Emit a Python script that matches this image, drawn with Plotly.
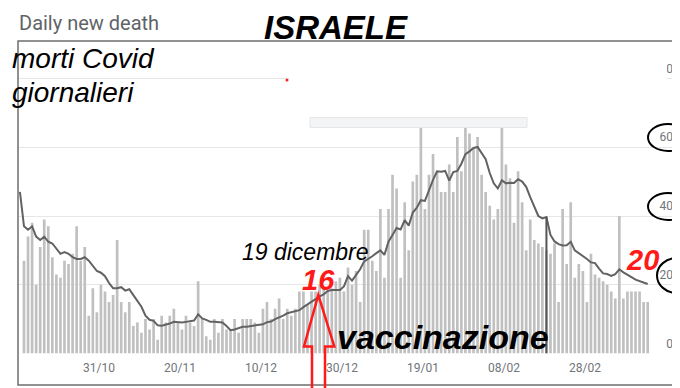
import pandas as pd
import plotly.graph_objects as go

# ---------------- data ----------------
start_date = "2020-10-11"
daily_deaths = [None,
    27, 34, 38, 20, 31, 39, 37, 28, 23, 22, 27, 26, 29, 37, 27, 31, 11, 19, 12, 20,
    18, 15, 17, 33, 15, 12, 15, 8, 9, 6, 10, 7, 10, 4, 11, 9, 11, 13,
    9, 7, 11, 9, 8, 21, 10, 5, 4, 10, 6, 10, 7, 7, 10, 6, 10, 10, 10, 9, 6, 13,
    15, 10, 13, 16, 10, 13, 11, 13, 18, 18, 14, 18, 18, 20, 19, 18, 19,
    21, 22, 18, 25, 20, 24, 15, 36, 36, 27, 24, 42, 22, 42, 52, 48, 22, 44, 30, 50, 52, 66,
    42, 52, 58, 53, 47, 47, 55, 47, 63, 53, 66, 64, 60, 63, 52, 47, 43, 39, 42,
    66, 55, 51, 38, 53, 44, 30, 39, 33, 32, 31, 30, 29, 32, 15, 42, 26, 44, 22, 26,
    24, 15, 29, 23, 22, 21, 20, 18, 16, 40, 16, 18, 18, 18, 18, 15, 15]

avg_7day = [47,
    37, 36, 37, 34, 33, 34, 32.5, 32, 30.5, 29, 29.5, 29, 28, 27.5, 27.5, 28, 27, 25.5, 24, 23.5,
    22.5, 20.5, 19, 19, 19.3, 18.3, 18.7, 17, 15.4, 13.6, 11, 9.8, 9.5, 8.2, 8.1, 8.3, 8.7, 9.2, 9.0,
    9.0, 9.2, 9.4, 9.6, 11.4, 10.2, 9.8, 9.2, 9.2, 9.0, 9.0, 8.0, 6.8, 7.0, 7.5, 7.8, 7.8, 8.0, 8.1, 8.2,
    8.5, 9.1, 9.3, 10.0, 10.4, 11.0, 11.7, 12.0, 12.3, 12.6, 13.5, 14.3, 15.0, 15.8, 16.6, 17.2, 18.2, 18.5,
    18.5, 18.5, 19.5, 22.5, 21.2, 23, 24.5, 26.8, 27.5, 28.3, 29.2, 30, 28.7, 32.5, 34.5, 36.5, 36.1,
    38.8, 37.2, 41, 42.4, 44.6,
    44.4, 47.5, 50.5, 53, 52.9, 53.1, 50.3, 52.8, 53.1, 55.2, 58, 58.8, 59.8, 60.1, 58.3, 56.5, 52.5, 49.5, 48,
    50.4, 49.5, 49.7, 49.6, 50.7, 50, 48.5, 45.5, 42.5, 40, 39.3, 39.7, 34.5, 32.6, 31.8, 31.4, 31.5, 32.5,
    30, 29.2, 28.5, 27.5, 26.5, 26.3, 24.7, 23.3, 23.1, 22.6, 23.1, 24.5, 23.6, 22.8, 22.2, 21.5, 21, 20.5, 20.2]

tick_dates = ["2020-10-31", "2020-11-20", "2020-12-10", "2020-12-30",
              "2021-01-19", "2021-02-08", "2021-02-28"]
tick_labels = ["31/10", "20/11", "10/12", "30/12", "19/01", "08/02", "28/02"]
y_ticks = [0, 20, 40, 60, 80]
hover_date = "2021-02-18"

dates = pd.date_range(start_date, periods=len(daily_deaths), freq="D")
assert len(daily_deaths) == len(avg_7day)

# ---------------- helpers (page pixel -> paper; page has an 8px body margin) ----------------
W, H = 680, 388
OFF = 8
def PX(x): return (x - OFF) / W
def PY(y): return 1 - (y - OFF) / H

fig = go.Figure()
fig.add_trace(go.Bar(x=dates, y=daily_deaths, marker_color="#c0c0c0",
                     marker_line_width=0, width=0.66 * 86400000))
fig.add_trace(go.Scatter(x=dates, y=avg_7day, mode="lines",
                         line=dict(color="#626262", width=2)))
hi = list(dates).index(pd.Timestamp(hover_date))
fig.add_trace(go.Scatter(x=[dates[hi], dates[hi]], y=[0, avg_7day[hi]], mode="lines",
                         line=dict(color="#555555", width=2)))

d0 = pd.Timestamp("2020-10-12")
xr = [d0 + pd.Timedelta(days=-1.48), d0 + pd.Timedelta(days=160.5)]

fig.update_layout(
    width=W, height=H, margin=dict(l=0, r=0, t=0, b=0),
    paper_bgcolor="white", plot_bgcolor="white", showlegend=False,
    bargap=0.3,
    xaxis=dict(domain=[PX(18), PX(674)], range=xr, type="date",
               tickvals=tick_dates, ticktext=tick_labels, showgrid=False,
               zeroline=False, showline=False, ticks="",
               tickfont=dict(family="Roboto", size=12, color="#70757a"),
               ticklabelshift=-2, ticklabelstandoff=5),
    yaxis=dict(domain=[PY(353.5), PY(41)], range=[0, (353.5 - 41) / 3.4375],
               side="right", anchor="free", position=PX(676),
               tickvals=y_ticks, ticklabelposition="inside",
               showgrid=True, gridcolor="#e6e6e6", gridwidth=1,
               zeroline=False, showline=False, ticks="",
               tickfont=dict(family="Roboto", size=12, color="#70757a"),
               ticklabelshift=-10),
)

shapes = []
# white patch hiding part of the top gridline / label
shapes.append(dict(type="rect", xref="paper", yref="paper", x0=PX(289), x1=PX(667),
                   y0=PY(86), y1=PY(56), fillcolor="white", line_width=0, layer="above"))
# grey box at top of chart
shapes.append(dict(type="rect", xref="paper", yref="paper", x0=PX(310), x1=PX(527),
                   y0=PY(127.5), y1=PY(117.5), fillcolor="#f3f4f5",
                   line=dict(color="#e6e6e6", width=1), layer="above"))
# frame
shapes.append(dict(type="rect", xref="paper", yref="paper", x0=PX(18), x1=PX(674),
                   y0=PY(385), y1=PY(41), line=dict(color="#6e6e6e", width=1.5),
                   fillcolor="rgba(0,0,0,0)", layer="above"))
# red dot
shapes.append(dict(type="circle", xref="paper", yref="paper", x0=PX(285.5), x1=PX(288.5),
                   y0=PY(81.5), y1=PY(78.5), fillcolor="#ff2020", line_width=0, layer="above"))
# black ellipses around axis labels
for (x0, y0, x1, y1) in [(648, 124, 688, 151), (648, 193, 688, 220), (657, 258, 697, 293)]:
    shapes.append(dict(type="circle", xref="paper", yref="paper", x0=PX(x0), x1=PX(x1),
                       y0=PY(y1), y1=PY(y0), line=dict(color="black", width=2),
                       fillcolor="rgba(0,0,0,0)", layer="above"))
# red hollow arrow
pts = [(312, 396), (312, 346.5), (304, 346.5), (318.3, 295), (334.3, 346.5), (325, 346.5), (325, 396)]
path = "M " + " L ".join(f"{PX(x):.5f},{PY(y):.5f}" for x, y in pts)
shapes.append(dict(type="path", xref="paper", yref="paper", path=path,
                   line=dict(color="#ff1a1a", width=2.5), layer="above"))
fig.update_layout(shapes=shapes)

def ann(text, x, y, size, color="black", xanchor="left", weight="normal", style="normal", family="Liberation Sans"):
    fig.add_annotation(text=text, xref="paper", yref="paper", x=PX(x), y=PY(y),
                       xanchor=xanchor, yanchor="middle", showarrow=False,
                       font=dict(family=family, size=size, color=color, weight=weight, style=style))

ann("Daily new death", 17, 23, 20, color="#5f6368", family="Roboto")
ann("ISRAELE", 336, 27, 33, xanchor="center", weight="bold", style="italic")
ann("morti Covid", 10, 59, 28, style="italic")
ann("giornalieri", 10, 92, 28, style="italic")
ann("19 dicembre", 240, 252, 23, style="italic")
ann("16", 318, 280, 29, color="#ff1a1a", xanchor="center", weight="bold", style="italic")
ann("20", 642, 260, 29, color="#ff1a1a", xanchor="center", weight="bold", style="italic")
ann("vaccinazione", 335, 337, 34, weight="bold", style="italic")

fig.write_html("out.html")
